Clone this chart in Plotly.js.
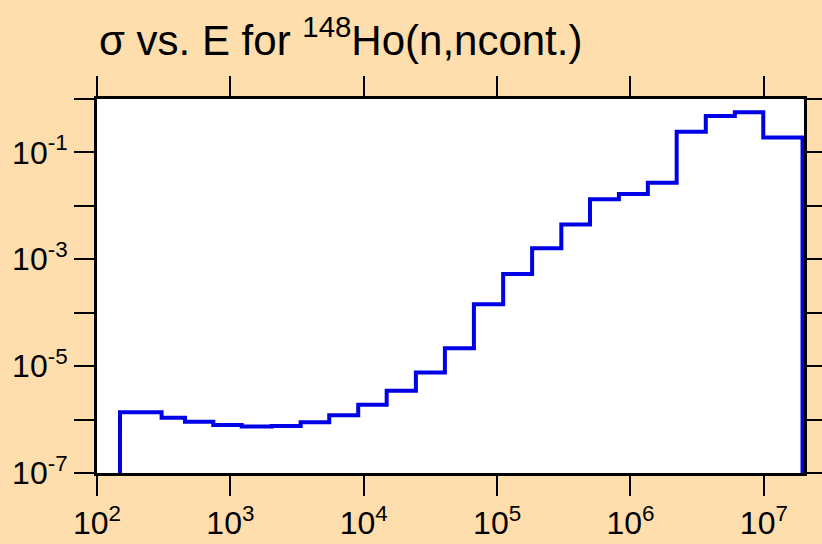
<!DOCTYPE html>
<html>
<head>
<meta charset="utf-8">
<script src="https://cdn.plot.ly/plotly-3.0.1.min.js"></script>
<style>
html,body{margin:0;padding:0;background:#FFDEAD;}
#chart{width:822px;height:544px;}
</style>
</head>
<body>
<div id="chart"></div>
<script>
// Bin edges (eV) and cross sections (b)
var binEdges = [148.7, 305, 457, 745, 1216, 2042, 3365, 5510, 9090, 14860, 24600, 40600, 67000,
  111000, 183000, 303000, 497000, 819000, 1.35e6, 2.22e6, 3.67e6, 6.06e6, 9.9e6, 1.95e7];
var sigmaValues = [1.37e-6, 1.08e-6, 9.1e-7, 7.9e-7, 7.4e-7, 7.6e-7, 8.9e-7, 1.2e-6, 1.89e-6, 3.45e-6,
  7.6e-6, 2.16e-5, 1.44e-4, 5.3e-4, 1.61e-3, 4.5e-3, 1.33e-2, 1.67e-2, 2.71e-2, 0.244, 0.481, 0.564, 0.19];
var baseValue = 1e-7;

var xTickVals = [1e2, 1e3, 1e4, 1e5, 1e6, 1e7];
var xTickText = ['10<sup>2</sup>', '10<sup>3</sup>', '10<sup>4</sup>', '10<sup>5</sup>', '10<sup>6</sup>', '10<sup>7</sup>'];
var yTickVals = [1e-7, 1e-6, 1e-5, 1e-4, 1e-3, 1e-2, 1e-1, 1e0];
var yTickText = ['10<sup>-7</sup>', '', '10<sup>-5</sup>', '', '10<sup>-3</sup>', '', '10<sup>-1</sup>', ''];

// build step path: start at base, up to first value, steps, down to base at last edge
var xs = [binEdges[0]];
var ys = [baseValue];
for (var i = 0; i < sigmaValues.length; i++) {
  xs.push(binEdges[i]);
  ys.push(sigmaValues[i]);
}
xs.push(binEdges[binEdges.length - 1]);
ys.push(sigmaValues[sigmaValues.length - 1]);
xs.push(binEdges[binEdges.length - 1]);
ys.push(baseValue);

var trace = {
  x: xs, y: ys, type: 'scatter', mode: 'lines',
  line: {shape: 'hv', color: 'rgb(0,0,230)', width: 4},
  hoverinfo: 'skip'
};

var fontFam = '"Liberation Sans", Arial, sans-serif';
var layout = {
  width: 822, height: 544,
  paper_bgcolor: '#FFDEAD', plot_bgcolor: '#FFFFFF',
  margin: {l: 97, r: 18, t: 99, b: 71},
  showlegend: false,
  title: {
    text: 'σ vs. E for <sup>148</sup>Ho(n,ncont.)',
    font: {family: fontFam, size: 42, color: '#000'},
    x: 99/822, xref: 'container', xanchor: 'left',
    y: 1 - 40/544, yref: 'container', yanchor: 'middle'
  },
  xaxis: {
    type: 'log', range: [2, Math.log10(2e7)],
    tickmode: 'array', tickvals: xTickVals, ticktext: xTickText,
    ticks: 'outside', ticklen: 20, tickwidth: 2, tickcolor: '#000',
    showline: true, linecolor: '#000', linewidth: 3, mirror: 'allticks',
    showgrid: false, zeroline: false,
    tickfont: {family: fontFam, size: 32, color: '#000'}
  },
  yaxis: {
    type: 'log', range: [-7, 0],
    tickmode: 'array', tickvals: yTickVals, ticktext: yTickText,
    ticks: 'outside', ticklen: 20, tickwidth: 2, tickcolor: '#000',
    showline: true, linecolor: '#000', linewidth: 3, mirror: 'allticks',
    showgrid: false, zeroline: false,
    tickfont: {family: fontFam, size: 32, color: '#000'}
  }
};

Plotly.newPlot('chart', [trace], layout, {staticPlot: true, displayModeBar: false});
</script>
</body>
</html>
